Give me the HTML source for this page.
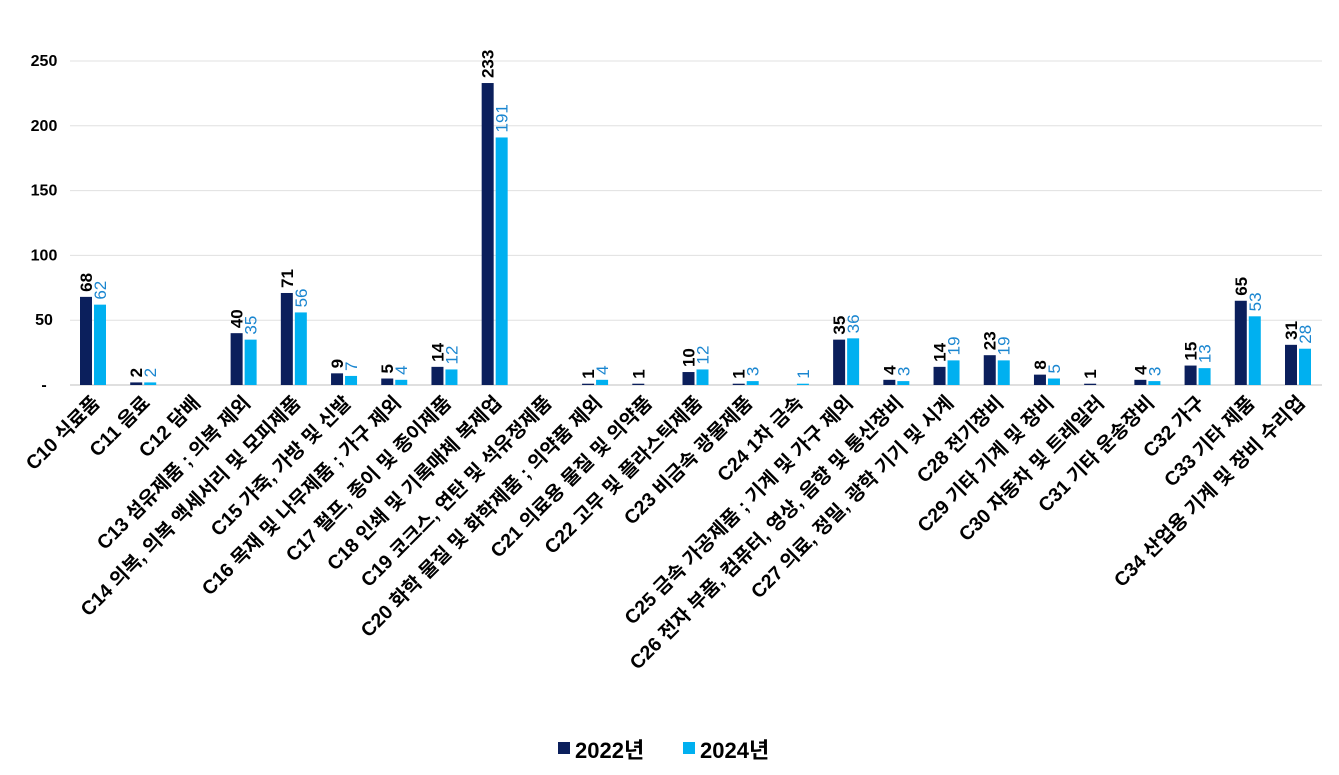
<!DOCTYPE html>
<html><head><meta charset="utf-8">
<style>
html,body{margin:0;padding:0;background:#fff;}
svg text{font-family:"Liberation Sans","Noto Sans CJK KR",sans-serif;}
</style></head>
<body>
<svg id="chart" width="1339" height="770" xmlns="http://www.w3.org/2000/svg"></svg>
<script>
const categories=["C10 식료품","C11 음료","C12 담배","C13 섬유제품 ; 의복 제외","C14 의복, 의복 액세서리 및 모피제품","C15 가죽, 가방 및 신발","C16 목재 및 나무제품 ; 가구 제외","C17 펄프, 종이 및 종이제품","C18 인쇄 및 기록매체 복제업","C19 코크스, 연탄 및 석유정제품","C20 화학 물질 및 화학제품 ; 의약품 제외","C21 의료용 물질 및 의약품","C22 고무 및 플라스틱제품","C23 비금속 광물제품","C24 1차 금속","C25 금속 가공제품 ; 기계 및 가구 제외","C26 전자 부품, 컴퓨터, 영상, 음향 및 통신장비","C27 의료, 정밀, 광학 기기 및 시계","C28 전기장비","C29 기타 기계 및 장비","C30 자동차 및 트레일러","C31 기타 운송장비","C32 가구","C33 기타 제품","C34 산업용 기계 및 장비 수리업"];
const series2022=[68,2,null,40,71,9,5,14,233,null,1,1,10,1,null,35,4,14,23,8,1,4,15,65,31];
const series2024=[62,2,null,35,56,7,4,12,191,null,4,null,12,3,1,36,3,19,19,5,null,3,13,53,28];
const yTicks=[0,50,100,150,200,250];
const yTickLabels=["-","50","100","150","200","250"];

const svg=document.getElementById('chart');
const NS="http://www.w3.org/2000/svg";
const y0=385, yPer=(385-61)/250;
const x0=93, step=(1298-93)/24, bw=12;
const yScale=v=>y0-v*yPer;
const xScale=i=>x0+i*step;
function mk(tag,attrs,text){const e=document.createElementNS(NS,tag);for(const k in attrs)e.setAttribute(k,attrs[k]);if(text!==undefined)e.textContent=text;svg.appendChild(e);return e;}

yTicks.forEach((t,i)=>{
  const y=yScale(t);
  const g=mk('line',{x1:70,x2:1322,y1:y,y2:y,stroke:i===0?'#bfbfbf':'#e0e0e0','stroke-width':1});
  
  
  const l=mk('text',{x:44,y:y+5,'text-anchor':'middle','font-size':16,'font-weight':'bold',fill:'#000'},yTickLabels[i]);
  
  
});

categories.forEach((c,i)=>{
  const cx=xScale(i);
  [[series2022,'#0b1f5c','#000',-13,'2022'],[series2024,'#00b0f0','#1a86d0',1,'2024']].forEach(([s,col,lc,off,nm])=>{
    const v=s[i]; if(v===null)return;
    const y=yScale(v);
    const r=mk('rect',{x:cx+off,y:y,width:bw,height:y0-y,fill:col});
    
    
    const tx=cx+off+bw/2+6, ty=y-5;
    const t=mk('text',{x:tx,y:ty,transform:`rotate(-90 ${tx} ${ty})`,'font-size':17,'font-weight':nm==='2022'?'bold':'normal',fill:lc},String(v));
    
    
  });
  const lx=cx+8, ly=404;
  const xl=mk('text',{x:lx,y:ly,transform:`rotate(-45 ${lx} ${ly})`,'text-anchor':'end','font-size':19.5,'font-weight':'bold',fill:'#000'},c);
  
  
});

const lg=[['2022년','#0b1f5c',558],['2024년','#00b0f0',683]];
lg.forEach(([t,c,x])=>{
  const r=mk('rect',{x:x,y:742,width:12,height:12,fill:c});
  
  
  const tx=mk('text',{x:x+17,y:758,'font-size':22,'font-weight':'bold',fill:'#000'},t);
  
  
});
</script>
</body></html>
